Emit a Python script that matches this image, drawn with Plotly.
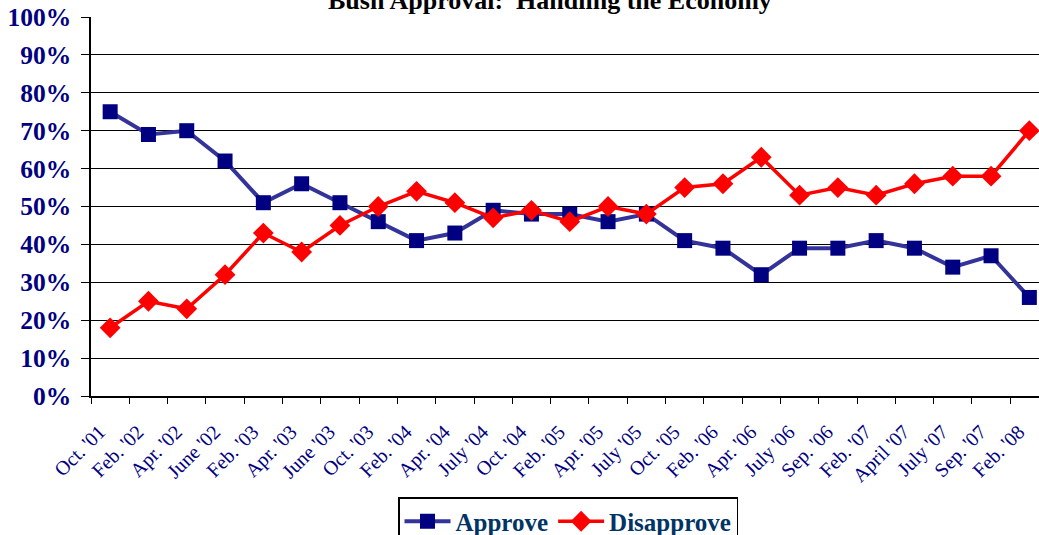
import plotly.graph_objects as go

categories = ["Oct. '01", "Feb. '02", "Apr. '02", "June '02", "Feb. '03", "Apr. '03",
              "June '03", "Oct. '03", "Feb. '04", "Apr. '04", "July '04", "Oct. '04",
              "Feb. '05", "Apr. '05", "July '05", "Oct. '05", "Feb. '06", "Apr. '06",
              "July '06", "Sep. '06", "Feb. '07", "April '07", "July '07", "Sep. '07", "Feb. '08"]
approve = [75, 69, 70, 62, 51, 56, 51, 46, 41, 43, 49, 48, 48, 46, 48, 41, 39, 32,
           39, 39, 41, 39, 34, 37, 26]
disapprove = [18, 25, 23, 32, 43, 38, 45, 50, 54, 51, 47, 49, 46, 50, 48, 55, 56, 63,
              53, 55, 53, 56, 58, 58, 70]
y_ticks = [0, 10, 20, 30, 40, 50, 60, 70, 80, 90, 100]

SERIF = "Liberation Serif, Times New Roman, serif"
NAVY = "#000080"

fig = go.Figure()
fig.add_trace(go.Scatter(
    x=categories, y=approve, name="Approve", mode="lines+markers",
    line=dict(color="#333399", width=4),
    marker=dict(symbol="square", size=15, color=NAVY, line=dict(width=0)),
))
fig.add_trace(go.Scatter(
    x=categories, y=disapprove, name="Disapprove", mode="lines+markers",
    line=dict(color="#FF0000", width=3.5),
    marker=dict(symbol="diamond", size=16, color="#FF0000", line=dict(width=0)),
))

W, H = 1039, 535
ml, mr, mt, mb = 91, 0, 17, 139
pw, ph = W - ml - mr, H - mt - mb
cat_w = 38.3  # pixel width of one category in the reference
x_max = -0.5 + pw / cat_w  # plot is cut off at the right edge as in the reference

fig.update_layout(
    width=W, height=H,
    margin=dict(l=ml, r=mr, t=mt, b=mb, pad=0, autoexpand=False),
    paper_bgcolor="white", plot_bgcolor="white",
    showlegend=True,
    legend=dict(
        orientation="h",
        xref="container", yref="container",
        x=398 / W, xanchor="left",
        y=1 - 497 / H, yanchor="top",
        bordercolor="black", borderwidth=1.5,
        font=dict(family=SERIF, size=25, color="#003366", weight="bold"),
        itemwidth=46, tracegroupgap=0,
    ),
    annotations=[dict(
        text="<b>Bush Approval:  Handling the Economy</b>",
        xref="paper", yref="paper", x=(550 - ml) / pw, y=1, yshift=17,
        xanchor="center", yanchor="middle", showarrow=False,
        font=dict(family=SERIF, size=26, color="black"),
    )],
)

fig.update_xaxes(
    type="category", tickson="boundaries", ticks="outside", ticklen=6,
    tickcolor="black", tickwidth=1.2,
    showline=True, linecolor="black", linewidth=1.5,
    showgrid=False, tickangle=-45, automargin=False,
    tickvals=categories, ticktext=[c + "\u00a0\u00a0\u00a0" for c in categories],
    ticklabelstandoff=4,
    tickfont=dict(family=SERIF, size=20, color=NAVY),
    range=[-0.5, x_max],
)
fig.update_yaxes(
    range=[0, 100], tickvals=y_ticks, ticktext=[f"{v}%" for v in y_ticks],
    ticks="outside", ticklen=8, tickcolor="black", tickwidth=1.2,
    showline=True, linecolor="black", linewidth=1.5,
    showgrid=True, gridcolor="black", gridwidth=1.3,
    zeroline=False, ticklabelstandoff=5, automargin=False,
    tickfont=dict(family=SERIF, size=25.5, color=NAVY, weight="bold"),
)

fig.write_html(
    "out.html",
    config={"displayModeBar": False},
    post_script="document.body.style.margin='0';document.body.style.padding='0';",
)
